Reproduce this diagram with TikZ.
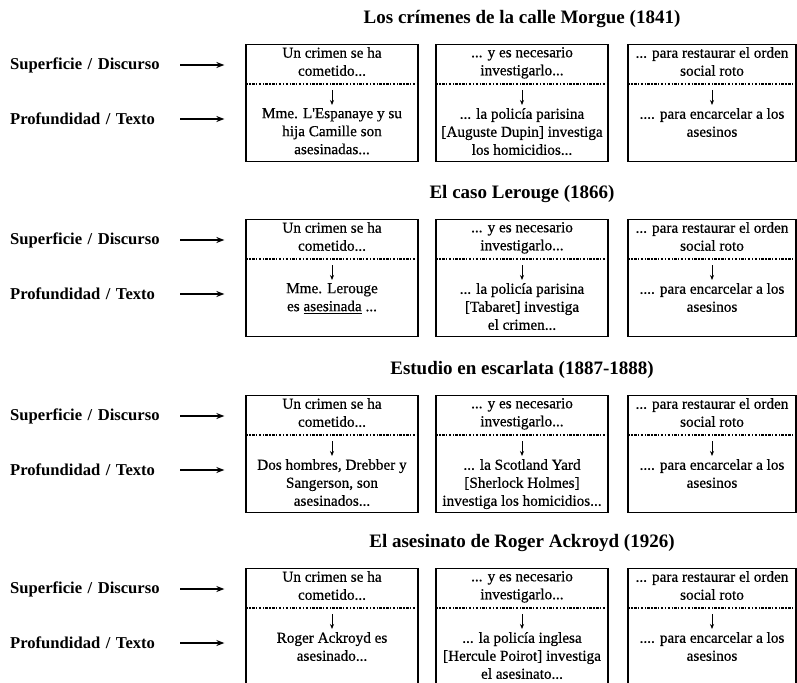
\documentclass[tikz,border=0pt]{standalone}
\usepackage{fontspec}
\setmainfont{Liberation Serif}
\newfontfamily\cajafont[FakeBold=0.6]{Liberation Serif}
\usepackage{tikz}
\usetikzlibrary{arrows.meta}

\begin{document}
\begin{tikzpicture}[x=1pt, y=1pt]

\tikzstyle{titulo} = [font=\fontsize{19}{23}\selectfont\bfseries, inner sep=0pt]
\tikzstyle{nivel} = [font=\fontsize{16.6}{20}\selectfont\bfseries, anchor=west, inner sep=0pt, text width=160pt, align=left]
\tikzstyle{caja} = [draw, line width=1.3pt, anchor=north, minimum width=172pt, minimum height=117pt, inner sep=0pt]
\tikzstyle{texto} = [font=\fontsize{15.2}{18}\selectfont\cajafont, align=center, anchor=north, inner sep=0pt, execute at begin node=\strut]
\tikzstyle{raya} = [line width=1.4pt, dash pattern=on 2.5pt off 1.5pt on 1.2pt off 1.5pt]
\tikzstyle{flecha} = [line width=1.5pt, -{Stealth[length=8pt, width=6pt]}, shorten <=10pt, shorten >=21pt]
\tikzstyle{flechita} = [line width=0.8pt, -{Stealth[length=5pt, width=4pt]}, shorten >=3pt]

\useasboundingbox (0,0) rectangle (797,-682);

% ---- Los crimenes de la calle Morgue
\node[titulo] (t1) at (522,-19) {Los crímenes de la calle Morgue (1841)};

\node[caja] (a1) at (332,-44) {};
\node[caja] (a2) at (522,-44) {};
\node[caja, minimum width=168pt] (a3) at (712,-44) {};

\node[nivel] (sa) at (10,-65) {Superficie / Discurso};
\node[nivel] (pa) at (10,-119) {Profundidad / Texto};

\node[texto] (a1s) at ([yshift=-3pt]a1.north) {Un crimen se ha\\cometido...};
\node[texto] (a1p) at ([yshift=-64pt]a1.north) {Mme. L'Espanaye y su\\hija Camille son\\asesinadas...};
\node[texto] (a2s) at ([yshift=-3pt]a2.north) {... y es necesario\\investigarlo...};
\node[texto] (a2p) at ([yshift=-64pt]a2.north) {... la policía parisina\\{}[Auguste Dupin] investiga\\los homicidios...};
\node[texto] (a3s) at ([yshift=-3pt]a3.north) {... para restaurar el orden\\social roto};
\node[texto] (a3p) at ([yshift=-64pt]a3.north) {.... para encarcelar a los\\asesinos};

\draw[flecha] (sa) -- (sa -| a1.west);
\draw[flecha] (pa) -- (pa -| a1.west);
\draw[raya] ([yshift=-40pt]a1.north west) -- ([yshift=-40pt]a1.north east);
\draw[raya] ([yshift=-40pt]a2.north west) -- ([yshift=-40pt]a2.north east);
\draw[raya] ([yshift=-40pt]a3.north west) -- ([yshift=-40pt]a3.north east);
\draw[flechita] ([yshift=-46pt]a1.north) -- (a1p);
\draw[flechita] ([yshift=-46pt]a2.north) -- (a2p);
\draw[flechita] ([yshift=-46pt]a3.north) -- (a3p);

% ---- El caso Lerouge
\node[titulo] (t2) at (522,-194) {El caso Lerouge (1866)};

\node[caja] (b1) at (332,-219) {};
\node[caja] (b2) at (522,-219) {};
\node[caja, minimum width=168pt] (b3) at (712,-219) {};

\node[nivel] (sb) at (10,-240) {Superficie / Discurso};
\node[nivel] (pb) at (10,-294) {Profundidad / Texto};

\node[texto] (b1s) at ([yshift=-3pt]b1.north) {Un crimen se ha\\cometido...};
\node[texto] (b1p) at ([yshift=-64pt]b1.north) {Mme. Lerouge\\es \underline{asesinada} ...};
\node[texto] (b2s) at ([yshift=-3pt]b2.north) {... y es necesario\\investigarlo...};
\node[texto] (b2p) at ([yshift=-64pt]b2.north) {... la policía parisina\\{}[Tabaret] investiga\\el crimen...};
\node[texto] (b3s) at ([yshift=-3pt]b3.north) {... para restaurar el orden\\social roto};
\node[texto] (b3p) at ([yshift=-64pt]b3.north) {.... para encarcelar a los\\asesinos};

\draw[flecha] (sb) -- (sb -| b1.west);
\draw[flecha] (pb) -- (pb -| b1.west);
\draw[raya] ([yshift=-40pt]b1.north west) -- ([yshift=-40pt]b1.north east);
\draw[raya] ([yshift=-40pt]b2.north west) -- ([yshift=-40pt]b2.north east);
\draw[raya] ([yshift=-40pt]b3.north west) -- ([yshift=-40pt]b3.north east);
\draw[flechita] ([yshift=-46pt]b1.north) -- (b1p);
\draw[flechita] ([yshift=-46pt]b2.north) -- (b2p);
\draw[flechita] ([yshift=-46pt]b3.north) -- (b3p);

% ---- Estudio en escarlata
\node[titulo] (t3) at (522,-370) {Estudio en escarlata (1887-1888)};

\node[caja] (c1) at (332,-395) {};
\node[caja] (c2) at (522,-395) {};
\node[caja, minimum width=168pt] (c3) at (712,-395) {};

\node[nivel] (sc) at (10,-416) {Superficie / Discurso};
\node[nivel] (pc) at (10,-470) {Profundidad / Texto};

\node[texto] (c1s) at ([yshift=-3pt]c1.north) {Un crimen se ha\\cometido...};
\node[texto] (c1p) at ([yshift=-64pt]c1.north) {Dos hombres, Drebber y\\Sangerson, son\\asesinados...};
\node[texto] (c2s) at ([yshift=-3pt]c2.north) {... y es necesario\\investigarlo...};
\node[texto] (c2p) at ([yshift=-64pt]c2.north) {... la Scotland Yard\\{}[Sherlock Holmes]\\investiga los homicidios...};
\node[texto] (c3s) at ([yshift=-3pt]c3.north) {... para restaurar el orden\\social roto};
\node[texto] (c3p) at ([yshift=-64pt]c3.north) {.... para encarcelar a los\\asesinos};

\draw[flecha] (sc) -- (sc -| c1.west);
\draw[flecha] (pc) -- (pc -| c1.west);
\draw[raya] ([yshift=-40pt]c1.north west) -- ([yshift=-40pt]c1.north east);
\draw[raya] ([yshift=-40pt]c2.north west) -- ([yshift=-40pt]c2.north east);
\draw[raya] ([yshift=-40pt]c3.north west) -- ([yshift=-40pt]c3.north east);
\draw[flechita] ([yshift=-46pt]c1.north) -- (c1p);
\draw[flechita] ([yshift=-46pt]c2.north) -- (c2p);
\draw[flechita] ([yshift=-46pt]c3.north) -- (c3p);

% ---- El asesinato de Roger Ackroyd
\node[titulo] (t4) at (522,-543) {El asesinato de Roger Ackroyd (1926)};

\node[caja] (d1) at (332,-568) {};
\node[caja] (d2) at (522,-568) {};
\node[caja, minimum width=168pt] (d3) at (712,-568) {};

\node[nivel] (sd) at (10,-589) {Superficie / Discurso};
\node[nivel] (pd) at (10,-643) {Profundidad / Texto};

\node[texto] (d1s) at ([yshift=-3pt]d1.north) {Un crimen se ha\\cometido...};
\node[texto] (d1p) at ([yshift=-64pt]d1.north) {Roger Ackroyd es\\asesinado...};
\node[texto] (d2s) at ([yshift=-3pt]d2.north) {... y es necesario\\investigarlo...};
\node[texto] (d2p) at ([yshift=-64pt]d2.north) {... la policía inglesa\\{}[Hercule Poirot] investiga\\el asesinato...};
\node[texto] (d3s) at ([yshift=-3pt]d3.north) {... para restaurar el orden\\social roto};
\node[texto] (d3p) at ([yshift=-64pt]d3.north) {.... para encarcelar a los\\asesinos};

\draw[flecha] (sd) -- (sd -| d1.west);
\draw[flecha] (pd) -- (pd -| d1.west);
\draw[raya] ([yshift=-40pt]d1.north west) -- ([yshift=-40pt]d1.north east);
\draw[raya] ([yshift=-40pt]d2.north west) -- ([yshift=-40pt]d2.north east);
\draw[raya] ([yshift=-40pt]d3.north west) -- ([yshift=-40pt]d3.north east);
\draw[flechita] ([yshift=-46pt]d1.north) -- (d1p);
\draw[flechita] ([yshift=-46pt]d2.north) -- (d2p);
\draw[flechita] ([yshift=-46pt]d3.north) -- (d3p);

\end{tikzpicture}
\end{document}
